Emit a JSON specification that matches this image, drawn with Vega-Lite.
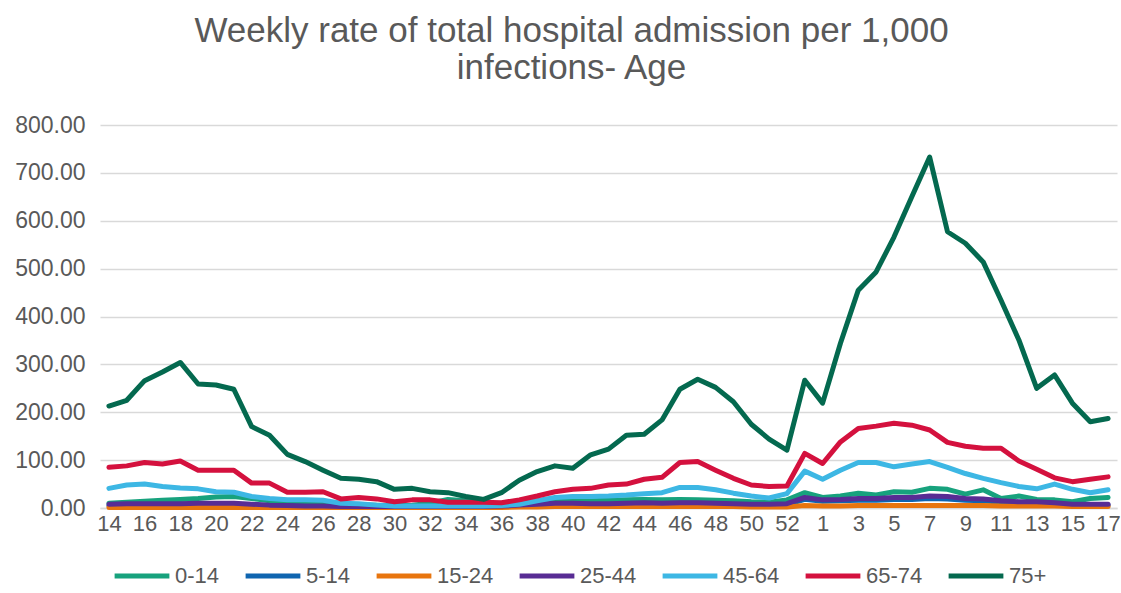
{
  "$schema": "https://vega.github.io/schema/vega-lite/v6.json",
  "width": 1017,
  "height": 383,
  "autosize": {"type": "none"},
  "padding": {"left": 100, "top": 125, "right": 4, "bottom": 85},
  "background": "white",
  "title": {
    "text": ["Weekly rate of total hospital admission per 1,000", "infections- Age"],
    "anchor": "middle",
    "frame": "group",
    "dx": -37,
    "fontSize": 35,
    "lineHeight": 37,
    "font": "Liberation Sans",
    "fontWeight": "normal",
    "color": "#595959",
    "offset": 28
  },
  "data": {
    "values": [
      {"week": "2020-14", "0-14": 10, "5-14": 5, "15-24": 1, "25-44": 8, "45-64": 41, "65-74": 85, "75+": 213},
      {"week": "2020-15", "0-14": 12, "5-14": 6, "15-24": 1, "25-44": 9, "45-64": 48, "65-74": 88, "75+": 225},
      {"week": "2020-16", "0-14": 14, "5-14": 6, "15-24": 1, "25-44": 9, "45-64": 50, "65-74": 95, "75+": 266},
      {"week": "2020-17", "0-14": 16, "5-14": 6, "15-24": 1, "25-44": 9, "45-64": 45, "65-74": 92, "75+": 284},
      {"week": "2020-18", "0-14": 18, "5-14": 7, "15-24": 1, "25-44": 9, "45-64": 42, "65-74": 98, "75+": 304},
      {"week": "2020-19", "0-14": 20, "5-14": 7, "15-24": 1, "25-44": 10, "45-64": 40, "65-74": 79, "75+": 259},
      {"week": "2020-20", "0-14": 23, "5-14": 7, "15-24": 1, "25-44": 10, "45-64": 34, "65-74": 79, "75+": 257},
      {"week": "2020-21", "0-14": 24, "5-14": 7, "15-24": 1, "25-44": 10, "45-64": 33, "65-74": 79, "75+": 248},
      {"week": "2020-22", "0-14": 20, "5-14": 6, "15-24": 1, "25-44": 8, "45-64": 24, "65-74": 52, "75+": 170},
      {"week": "2020-23", "0-14": 15, "5-14": 5, "15-24": 1, "25-44": 6, "45-64": 20, "65-74": 52, "75+": 152},
      {"week": "2020-24", "0-14": 12, "5-14": 4, "15-24": 1, "25-44": 5, "45-64": 17, "65-74": 33, "75+": 112},
      {"week": "2020-25", "0-14": 10, "5-14": 3, "15-24": 1, "25-44": 4, "45-64": 17, "65-74": 33, "75+": 97},
      {"week": "2020-26", "0-14": 9, "5-14": 3, "15-24": 1, "25-44": 4, "45-64": 16, "65-74": 34, "75+": 79},
      {"week": "2020-27", "0-14": 8, "5-14": 2, "15-24": 1, "25-44": 3, "45-64": 10, "65-74": 19, "75+": 62},
      {"week": "2020-28", "0-14": 7, "5-14": 2, "15-24": 1, "25-44": 3, "45-64": 9, "65-74": 22, "75+": 60},
      {"week": "2020-29", "0-14": 6, "5-14": 2, "15-24": 1, "25-44": 3, "45-64": 6, "65-74": 19, "75+": 55},
      {"week": "2020-30", "0-14": 5, "5-14": 2, "15-24": 1, "25-44": 3, "45-64": 4, "65-74": 13, "75+": 39},
      {"week": "2020-31", "0-14": 6, "5-14": 2, "15-24": 1, "25-44": 3, "45-64": 4, "65-74": 17, "75+": 41},
      {"week": "2020-32", "0-14": 10, "5-14": 2, "15-24": 1, "25-44": 3, "45-64": 4, "65-74": 17, "75+": 34},
      {"week": "2020-33", "0-14": 18, "5-14": 2, "15-24": 1, "25-44": 3, "45-64": 4, "65-74": 12, "75+": 32},
      {"week": "2020-34", "0-14": 15, "5-14": 2, "15-24": 1, "25-44": 3, "45-64": 4, "65-74": 12, "75+": 24},
      {"week": "2020-35", "0-14": 8, "5-14": 2, "15-24": 1, "25-44": 3, "45-64": 4, "65-74": 12, "75+": 18},
      {"week": "2020-36", "0-14": 6, "5-14": 3, "15-24": 1, "25-44": 4, "45-64": 5, "65-74": 11, "75+": 32},
      {"week": "2020-37", "0-14": 10, "5-14": 4, "15-24": 2, "25-44": 6, "45-64": 8, "65-74": 17, "75+": 58},
      {"week": "2020-38", "0-14": 14, "5-14": 6, "15-24": 2, "25-44": 8, "45-64": 15, "65-74": 25, "75+": 76},
      {"week": "2020-39", "0-14": 15, "5-14": 7, "15-24": 3, "25-44": 10, "45-64": 22, "65-74": 34, "75+": 88},
      {"week": "2020-40", "0-14": 16, "5-14": 8, "15-24": 3, "25-44": 10, "45-64": 24, "65-74": 39, "75+": 83},
      {"week": "2020-41", "0-14": 15, "5-14": 7, "15-24": 3, "25-44": 9, "45-64": 24, "65-74": 41, "75+": 111},
      {"week": "2020-42", "0-14": 16, "5-14": 7, "15-24": 3, "25-44": 9, "45-64": 25, "65-74": 48, "75+": 123},
      {"week": "2020-43", "0-14": 17, "5-14": 8, "15-24": 3, "25-44": 10, "45-64": 27, "65-74": 50, "75+": 152},
      {"week": "2020-44", "0-14": 18, "5-14": 8, "15-24": 3, "25-44": 11, "45-64": 30, "65-74": 60, "75+": 154},
      {"week": "2020-45", "0-14": 17, "5-14": 8, "15-24": 3, "25-44": 10, "45-64": 32, "65-74": 64, "75+": 184},
      {"week": "2020-46", "0-14": 18, "5-14": 9, "15-24": 3, "25-44": 11, "45-64": 43, "65-74": 95, "75+": 248},
      {"week": "2020-47", "0-14": 17, "5-14": 9, "15-24": 3, "25-44": 11, "45-64": 43, "65-74": 97, "75+": 269},
      {"week": "2020-48", "0-14": 16, "5-14": 8, "15-24": 3, "25-44": 10, "45-64": 38, "65-74": 79, "75+": 252},
      {"week": "2020-49", "0-14": 15, "5-14": 7, "15-24": 3, "25-44": 9, "45-64": 31, "65-74": 62, "75+": 222},
      {"week": "2020-50", "0-14": 13, "5-14": 6, "15-24": 2, "25-44": 8, "45-64": 25, "65-74": 48, "75+": 175},
      {"week": "2020-51", "0-14": 12, "5-14": 6, "15-24": 2, "25-44": 8, "45-64": 21, "65-74": 45, "75+": 144},
      {"week": "2020-52", "0-14": 17, "5-14": 7, "15-24": 2, "25-44": 9, "45-64": 30, "65-74": 46, "75+": 121},
      {"week": "2020-53", "0-14": 32, "5-14": 18, "15-24": 5, "25-44": 22, "45-64": 77, "65-74": 114, "75+": 267},
      {"week": "2021-1", "0-14": 22, "5-14": 14, "15-24": 4, "25-44": 17, "45-64": 60, "65-74": 93, "75+": 219},
      {"week": "2021-2", "0-14": 25, "5-14": 15, "15-24": 4, "25-44": 18, "45-64": 79, "65-74": 138, "75+": 344},
      {"week": "2021-3", "0-14": 31, "5-14": 16, "15-24": 5, "25-44": 20, "45-64": 95, "65-74": 166, "75+": 455},
      {"week": "2021-4", "0-14": 27, "5-14": 16, "15-24": 5, "25-44": 20, "45-64": 95, "65-74": 171, "75+": 493},
      {"week": "2021-5", "0-14": 34, "5-14": 18, "15-24": 5, "25-44": 22, "45-64": 86, "65-74": 177, "75+": 566},
      {"week": "2021-6", "0-14": 33, "5-14": 18, "15-24": 5, "25-44": 22, "45-64": 92, "65-74": 173, "75+": 650},
      {"week": "2021-7", "0-14": 41, "5-14": 20, "15-24": 5, "25-44": 25, "45-64": 97, "65-74": 163, "75+": 733},
      {"week": "2021-8", "0-14": 39, "5-14": 19, "15-24": 5, "25-44": 24, "45-64": 85, "65-74": 137, "75+": 577},
      {"week": "2021-9", "0-14": 29, "5-14": 16, "15-24": 5, "25-44": 20, "45-64": 72, "65-74": 129, "75+": 553},
      {"week": "2021-10", "0-14": 38, "5-14": 15, "15-24": 5, "25-44": 19, "45-64": 62, "65-74": 125, "75+": 514},
      {"week": "2021-11", "0-14": 20, "5-14": 12, "15-24": 4, "25-44": 15, "45-64": 53, "65-74": 125, "75+": 434},
      {"week": "2021-12", "0-14": 25, "5-14": 10, "15-24": 4, "25-44": 13, "45-64": 45, "65-74": 98, "75+": 351},
      {"week": "2021-13", "0-14": 18, "5-14": 10, "15-24": 4, "25-44": 13, "45-64": 40, "65-74": 81, "75+": 250},
      {"week": "2021-14", "0-14": 17, "5-14": 9, "15-24": 4, "25-44": 11, "45-64": 50, "65-74": 63, "75+": 278},
      {"week": "2021-15", "0-14": 13, "5-14": 6, "15-24": 3, "25-44": 8, "45-64": 39, "65-74": 55, "75+": 219},
      {"week": "2021-16", "0-14": 20, "5-14": 6, "15-24": 3, "25-44": 8, "45-64": 32, "65-74": 60, "75+": 180},
      {"week": "2021-17", "0-14": 22, "5-14": 6, "15-24": 3, "25-44": 8, "45-64": 38, "65-74": 65, "75+": 187}
    ]
  },
  "transform": [
    {"fold": ["0-14", "5-14", "15-24", "25-44", "45-64", "65-74", "75+"], "as": ["group", "rate"]}
  ],
  "mark": {"type": "line", "strokeWidth": 5, "strokeCap": "round", "strokeJoin": "round"},
  "encoding": {
    "x": {
      "field": "week",
      "type": "ordinal",
      "sort": null,
      "scale": {"type": "point", "padding": 0.5},
      "axis": {
        "title": null,
        "values": ["2020-14","2020-16","2020-18","2020-20","2020-22","2020-24","2020-26","2020-28","2020-30","2020-32","2020-34","2020-36","2020-38","2020-40","2020-42","2020-44","2020-46","2020-48","2020-50","2020-52","2021-1","2021-3","2021-5","2021-7","2021-9","2021-11","2021-13","2021-15","2021-17"],
        "labelExpr": "split(datum.label, '-')[1]",
        "labelAngle": 0,
        "labelFontSize": 22,
        "labelFont": "Liberation Sans",
        "labelColor": "#595959",
        "labelPadding": 5,
        "ticks": false,
        "domain": true,
        "domainColor": "#D9D9D9",
        "domainWidth": 1.5,
        "grid": false
      }
    },
    "y": {
      "field": "rate",
      "type": "quantitative",
      "scale": {"domain": [0, 800], "nice": false},
      "axis": {
        "title": null,
        "values": [0, 100, 200, 300, 400, 500, 600, 700, 800],
        "format": ".2f",
        "labelFontSize": 23,
        "labelFont": "Liberation Sans",
        "labelColor": "#595959",
        "labelPadding": 15,
        "ticks": false,
        "domain": false,
        "grid": true,
        "gridColor": "#D9D9D9",
        "gridWidth": 1.5
      }
    },
    "color": {
      "field": "group",
      "type": "nominal",
      "scale": {
        "domain": ["0-14", "5-14", "15-24", "25-44", "45-64", "65-74", "75+"],
        "range": ["#17A27D", "#0F65B0", "#E8750E", "#582C94", "#3DB7E4", "#D4113E", "#04694F"]
      },
      "legend": {
        "title": null,
        "orient": "bottom",
        "direction": "horizontal",
        "gridAlign": "none",
        "symbolType": "stroke",
        "symbolStrokeWidth": 5,
        "symbolSize": 3000,
        "labelFontSize": 22,
        "labelFont": "Liberation Sans",
        "labelColor": "#595959",
        "labelOffset": 3,
        "columnPadding": 15,
        "padding": 12,
        "offset": 0
      }
    }
  },
  "config": {
    "view": {"stroke": null}
  }
}
